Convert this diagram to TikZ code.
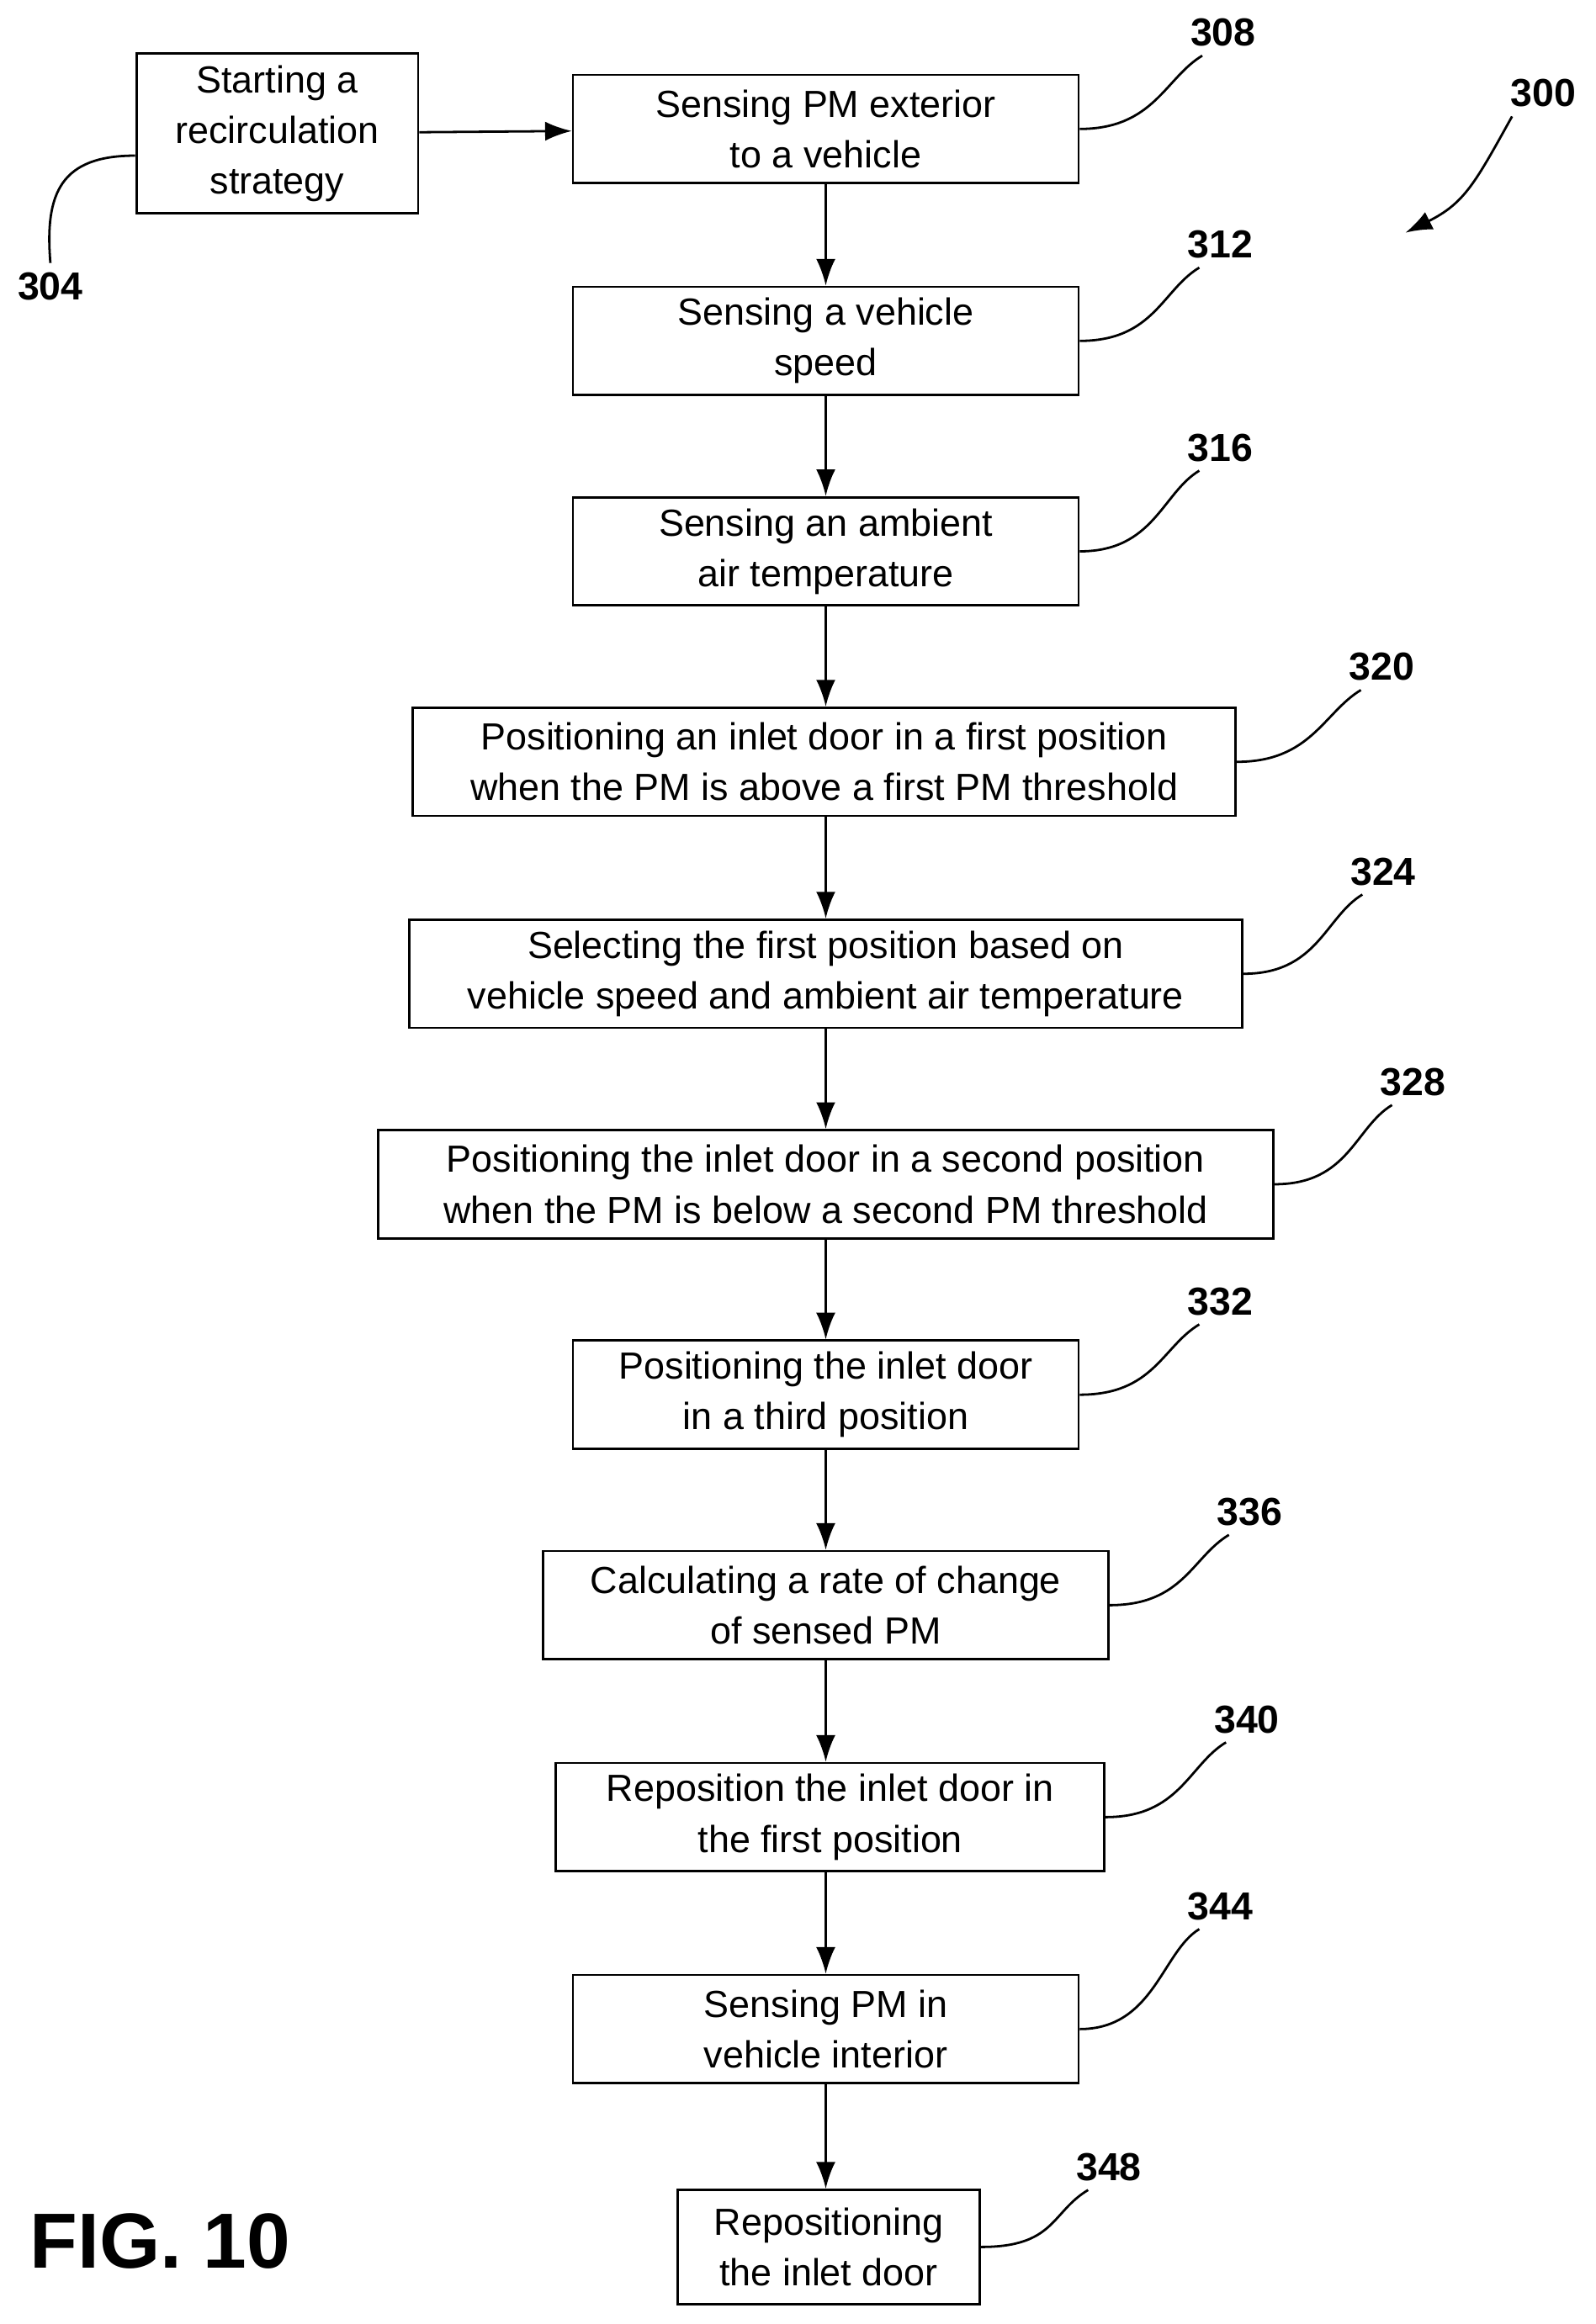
\documentclass[tikz,border=0pt]{standalone}
\usepackage{fontspec}
\setmainfont{Liberation Sans}
\usetikzlibrary{arrows.meta}
\begin{document}
\begin{tikzpicture}[x=0.2mm,y=-0.2mm,
    box/.style={draw, line width=0.9pt, minimum height=14.6mm, align=center,
                font=\fontsize{14.5}{19.4}\selectfont, inner sep=0pt},
    num/.style={font=\fontsize{15}{18}\selectfont\bfseries},
    lead/.style={line width=0.9pt},
    flow/.style={line width=0.9pt, -{Latex[length=3.6mm,width=2.6mm]}}]
        \useasboundingbox (0,0) rectangle (1076,1568);

        \node[box, minimum width=38mm, minimum height=21.6mm] (s) at (187,90)
              {Starting a\\recirculation\\strategy};
        \node[box, minimum width=68.2mm] (a) at (557,87)   {Sensing PM exterior\\to a vehicle};
        \node[box, minimum width=68.2mm] (b) at (557,230)  {Sensing a vehicle\\speed};
        \node[box, minimum width=68.2mm] (c) at (557,372)  {Sensing an ambient\\air temperature};
        \node[box, minimum width=111mm]  (d) at (556,514)  {Positioning an inlet door in a first position\\when the PM is above a first PM threshold};
        \node[box, minimum width=112.4mm] (e) at (557,657) {Selecting the first position based on\\vehicle speed and ambient air temperature};
        \node[box, minimum width=120.8mm] (f) at (557,799) {Positioning the inlet door in a second position\\when the PM is below a second PM threshold};
        \node[box, minimum width=68.2mm] (g) at (557,941)  {Positioning the inlet door\\in a third position};
        \node[box, minimum width=76.2mm] (h) at (557,1083) {Calculating a rate of change\\of sensed PM};
        \node[box, minimum width=74mm]   (i) at (560,1226) {Reposition the inlet door in\\the first position};
        \node[box, minimum width=68.2mm] (j) at (557,1369) {Sensing PM in\\vehicle interior};
        \node[box, minimum width=40.8mm, minimum height=15.4mm] (k) at (559,1516) {Repositioning\\the inlet door};

        % Draw the flow
        \draw[flow] (s) -- (a);
        \foreach \p/\q in {a/b,b/c,c/d,d/e,e/f,f/g,g/h,h/i,i/j,j/k}
            \draw[flow] (\p.south -| 557,0) -- (\q.north -| 557,0);

        % Reference numerals
        \node[num] (n304) at (34,193)  {304};
        \node[num] (n308) at (825,22)  {308};
        \node[num] (n312) at (823,165) {312};
        \node[num] (n316) at (823,302) {316};
        \node[num] (n320) at (932,450) {320};
        \node[num] (n324) at (933,588) {324};
        \node[num] (n328) at (953,730) {328};
        \node[num] (n332) at (823,878) {332};
        \node[num] (n336) at (843,1020) {336};
        \node[num] (n340) at (841,1160) {340};
        \node[num] (n344) at (823,1286) {344};
        \node[num] (n348) at (748,1462) {348};
        \node[num] (n300) at (1041,63) {300};
        \node[font=\fontsize{30}{34}\selectfont\bfseries] (fig) at (108,1512) {FIG. 10};

        \draw[lead] (s.west) ++(0,15) .. controls +(-50,0) and (30,130) .. (n304.north);
        \foreach \b/\n in {a/n308,b/n312,c/n316,d/n320,e/n324,f/n328,g/n332,h/n336,i/n340,j/n344,k/n348}
            \draw[lead] (\b.east) .. controls +(50,0) and +(-25,15) .. ([xshift=-8]\n.south);
        \draw[lead, -{Latex[length=3.6mm,width=2.6mm]}] ([xshift=-12]n300.south) .. controls +(-25,45) and +(40,-20) .. (948,157);
\end{tikzpicture}
\end{document}
